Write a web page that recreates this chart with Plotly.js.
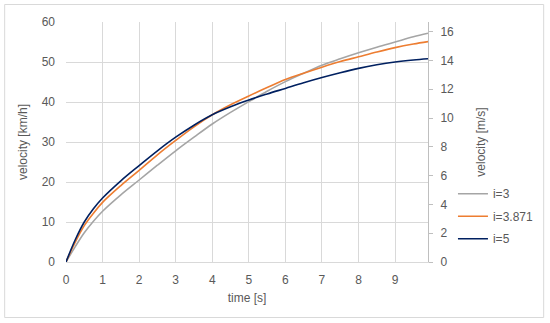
<!DOCTYPE html>
<html>
<head>
<meta charset="utf-8">
<script src="https://cdn.plot.ly/plotly-3.0.1.min.js"></script>
<style>html,body{margin:0;padding:0;background:#fff;}#chart{width:550px;height:323px;}</style>
</head>
<body>
<div id="chart"></div>
<script>
const time = [0,0.25,0.5,0.75,1,1.5,2,2.5,3,3.5,4,4.5,5,5.5,6,6.5,7,7.5,8,8.5,9,9.5,9.9];
const v_i3 = [0,3.8,7.3,10.2,12.7,16.8,20.5,24.2,27.8,31.2,34.5,37.4,40.1,42.7,45.1,47.2,49.2,50.8,52.3,53.7,55,56.3,57.2];
const v_i3871 = [0,4.9,9.1,12.2,14.9,19.1,22.9,26.8,30.4,33.8,36.8,39.3,41.5,43.6,45.6,47.2,48.7,50.1,51.3,52.5,53.6,54.5,55.1];
const v_i5 = [0,5.5,10,13.3,16,20.3,24.1,27.8,31.2,34.2,36.8,38.8,40.5,42,43.4,44.8,46.1,47.3,48.4,49.3,50,50.5,50.8];
const seriesNames = ["i=3","i=3.871","i=5"];
const xTicks = [0,1,2,3,4,5,6,7,8,9];
const kmhTicks = [0,10,20,30,40,50,60];
const msTicks = [0,2,4,6,8,10,12,14,16];

const font = {family: "Liberation Sans, Arial, sans-serif", size: 12, color: "#595959"};
const colors = ["#a5a5a5","#ed7d31","#002060"];
const series = [v_i3, v_i3871, v_i5];

const traces = series.map((s, k) => ({
  x: time, y: s, type: "scatter", mode: "lines", name: seriesNames[k],
  line: {color: colors[k], width: 1.6, shape: "spline", smoothing: 1},
  legendgroup: "g" + k, hoverinfo: "skip"
}));
traces.push({x: [null], y: [null], yaxis: "y2", type: "scatter", mode: "lines", showlegend: false, hoverinfo: "skip"});

const layout = {
  width: 550, height: 323,
  margin: {l: 66, r: 121, t: 22, b: 61},
  paper_bgcolor: "#ffffff", plot_bgcolor: "#ffffff",
  font: font,
  showlegend: true,
  legend: {x: 1.066, xanchor: "left", y: 0.345, yanchor: "top", font: font,
           tracegroupgap: 3.5, traceorder: "grouped", bgcolor: "rgba(0,0,0,0)"},
  xaxis: {
    range: [0, 9.9], tickvals: xTicks, ticktext: xTicks.map(String),
    showgrid: true, gridcolor: "#d9d9d9", gridwidth: 1,
    showline: true, linecolor: "#d9d9d9", linewidth: 1,
    zeroline: false, ticks: "", ticklabelstandoff: 7,
    title: {text: "time [s]", font: font, standoff: 7}
  },
  yaxis: {
    range: [0, 60], tickvals: kmhTicks, ticktext: kmhTicks.map(String),
    showgrid: true, gridcolor: "#d9d9d9", gridwidth: 1,
    zeroline: false, showline: false, ticks: "", ticklabelstandoff: 10,
    title: {text: "velocity [km/h]", font: font, standoff: 11}
  },
  yaxis2: {
    overlaying: "y", side: "right", range: [0, 60/3.6],
    tickvals: msTicks, ticktext: msTicks.map(String),
    showgrid: false, zeroline: false,
    showline: true, linecolor: "#bfbfbf", linewidth: 1,
    ticks: "outside", ticklen: 4, tickcolor: "#bfbfbf", ticklabelstandoff: 5,
    title: {text: "velocity [m/s]", font: font, standoff: 23}
  },
  shapes: [{
    type: "rect", xref: "paper", yref: "paper",
    x0: (4.5-66)/363, x1: (545-66)/363, y0: (262-317.5)/240, y1: (262-4.5)/240,
    line: {color: "#d9d9d9", width: 1}, fillcolor: "rgba(0,0,0,0)", layer: "below"
  }]
};

Plotly.newPlot("chart", traces, layout, {displayModeBar: false, staticPlot: true});
</script>
</body>
</html>
